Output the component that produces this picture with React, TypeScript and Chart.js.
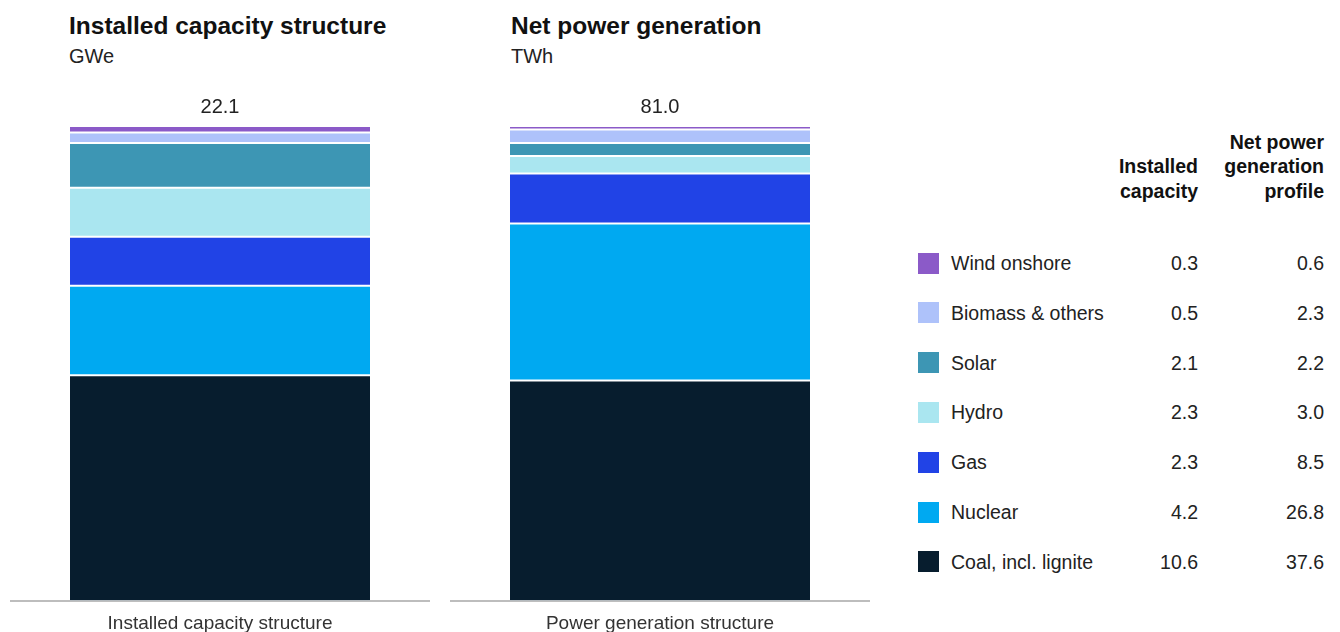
import React, { useEffect, useRef } from 'react';
import { Chart, registerables } from 'chart.js';

Chart.register(...registerables);

const categories = ['Wind onshore', 'Biomass & others', 'Solar', 'Hydro', 'Gas', 'Nuclear', 'Coal, incl. lignite'];
const installedCapacity = [0.3, 0.5, 2.1, 2.3, 2.3, 4.2, 10.6];
const netGeneration = [0.6, 2.3, 2.2, 3.0, 8.5, 26.8, 37.6];
const totals = ['22.1', '81.0'];
const barLabels = ['Installed capacity structure', 'Power generation structure'];
const titles = ['Installed capacity structure', 'Net power generation'];
const units = ['GWe', 'TWh'];
const colors = ['#8B5AC8', '#AEC2FA', '#3D96B4', '#AAE6F0', '#2143E6', '#00A9F1', '#071D2E'];

const FONT = '"Liberation Sans", Arial, sans-serif';

const totalPlugin = {
  id: 'totalLabel',
  afterDatasetsDraw(chart: any, _args: any, opts: any) {
    const { ctx } = chart;
    const meta = chart.getDatasetMeta(chart.data.datasets.length - 1);
    const bar = meta.data[0];
    if (!bar) return;
    ctx.save();
    ctx.font = `20px ${FONT}`;
    ctx.fillStyle = '#222';
    ctx.textAlign = 'center';
    ctx.textBaseline = 'middle';
    ctx.fillText(opts.text, bar.x, bar.y - 19);
    ctx.restore();
  },
};

function StackBar({ values, label, total, left }: { values: number[]; label: string; total: string; left: number }) {
  const ref = useRef<HTMLCanvasElement | null>(null);
  useEffect(() => {
    if (!ref.current) return;
    const idx = categories.map((_, i) => i).reverse();
    const sum = values.reduce((a, b) => a + b, 0);
    const chart = new Chart(ref.current, {
      type: 'bar',
      data: {
        labels: [label],
        datasets: idx.map((i) => ({
          label: categories[i],
          data: [values[i]],
          backgroundColor: colors[i],
          borderColor: '#ffffff',
          borderWidth: { top: 1, bottom: 1, left: 0, right: 0 },
          borderSkipped: false,
          barPercentage: 1,
          categoryPercentage: 300 / 420,
        })),
      },
      options: {
        responsive: false,
        animation: false,
        layout: { padding: { top: 46, bottom: 0, left: 0, right: 0 } },
        plugins: {
          legend: { display: false },
          tooltip: { enabled: false },
          totalLabel: { text: total },
        } as any,
        scales: {
          x: {
            stacked: true,
            grid: { display: false, drawTicks: false },
            border: { display: true, color: '#bdbdbd', width: 2 },
            ticks: { padding: 11, color: '#333', font: { family: FONT, size: 19 }, maxRotation: 0 },
          },
          y: {
            stacked: true,
            display: false,
            min: 0,
            max: sum,
          },
        },
      },
      plugins: [totalPlugin],
    });
    return () => chart.destroy();
  }, [values, label, total]);
  return (
    <div style={{ position: 'absolute', left, top: 80, width: 420, height: 566 }}>
      <canvas ref={ref} width={420} height={566} style={{ display: 'block' }} />
    </div>
  );
}

export default function App() {
  const rowCenters = categories.map((_, i) => 263 + i * 49.83);
  const textStyle: React.CSSProperties = { position: 'absolute', fontFamily: FONT, color: '#222', whiteSpace: 'nowrap' };
  return (
    <div style={{ position: 'fixed', left: 0, top: 0, width: 1340, height: 632, background: '#fff', overflow: 'hidden' }}>
      {[69, 511].map((x, k) => (
        <React.Fragment key={k}>
          <div style={{ ...textStyle, left: x, top: 11, fontSize: 24.5, lineHeight: '30px', fontWeight: 700, color: '#111' }}>{titles[k]}</div>
          <div style={{ ...textStyle, left: x, top: 44, fontSize: 20, lineHeight: '24px' }}>{units[k]}</div>
        </React.Fragment>
      ))}
      <StackBar values={installedCapacity} label={barLabels[0]} total={totals[0]} left={10} />
      <StackBar values={netGeneration} label={barLabels[1]} total={totals[1]} left={450} />

      <div style={{ ...textStyle, right: 142, top: 154.25, fontSize: 19.5, lineHeight: '24.5px', fontWeight: 700, textAlign: 'right', color: '#111' }}>
        Installed<br />capacity
      </div>
      <div style={{ ...textStyle, right: 16, top: 129.75, fontSize: 19.5, lineHeight: '24.5px', fontWeight: 700, textAlign: 'right', color: '#111' }}>
        Net power<br />generation<br />profile
      </div>

      {categories.map((c, i) => (
        <React.Fragment key={c}>
          <div style={{ position: 'absolute', left: 918, top: rowCenters[i] - 10.5, width: 21, height: 21, background: colors[i] }} />
          <div style={{ ...textStyle, left: 951, top: rowCenters[i] - 12, fontSize: 19.5, lineHeight: '24px' }}>{c}</div>
          <div style={{ ...textStyle, right: 142, top: rowCenters[i] - 12, fontSize: 19.5, lineHeight: '24px', textAlign: 'right' }}>{installedCapacity[i].toFixed(1)}</div>
          <div style={{ ...textStyle, right: 16, top: rowCenters[i] - 12, fontSize: 19.5, lineHeight: '24px', textAlign: 'right' }}>{netGeneration[i].toFixed(1)}</div>
        </React.Fragment>
      ))}
    </div>
  );
}
